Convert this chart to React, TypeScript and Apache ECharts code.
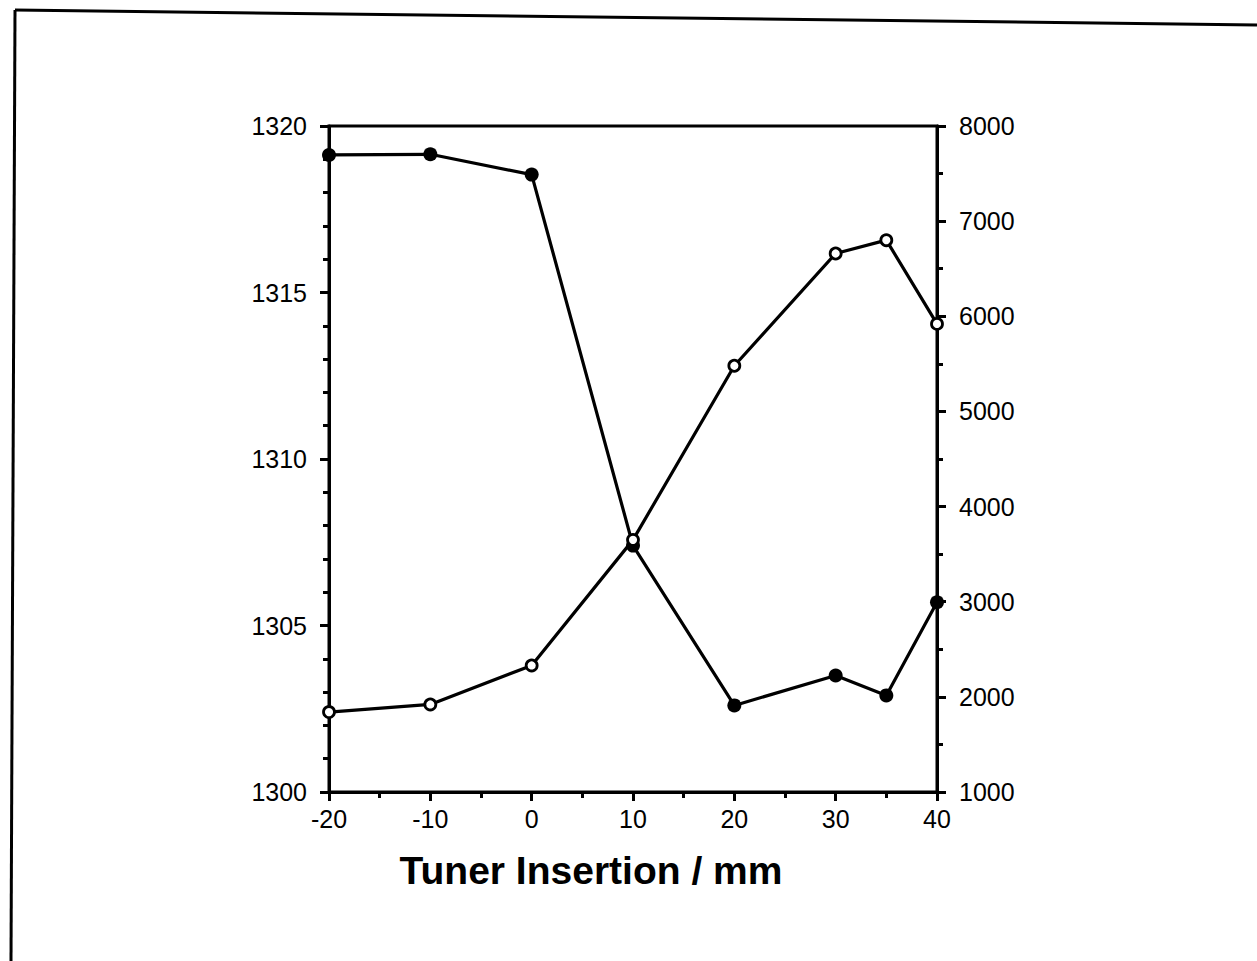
import React, { useEffect, useRef } from "react";
import * as echarts from "echarts";

const insertion = [-20, -10, 0, 10, 20, 30, 35, 40];
const frequencyValues = [1319.13, 1319.15, 1318.54, 1307.4, 1302.6, 1303.5, 1302.9, 1305.7];
const qValues = [1840, 1920, 2330, 3650, 5480, 6660, 6800, 5920];
const titleText = "Tuner Insertion / mm";

export default function App() {
  const ref = useRef<HTMLDivElement>(null);
  useEffect(() => {
    if (!ref.current) return;
    const chart = echarts.init(ref.current, null, { renderer: "svg" });
    const font = "Liberation Sans, Arial, Helvetica, sans-serif";
    const plain = (v: number) => String(v);
    const axisCommon = {
      axisLine: { show: true, onZero: false, lineStyle: { color: "#000", width: 3 } },
      axisTick: { show: true, inside: false, length: 9, lineStyle: { color: "#000", width: 3 } },
      splitLine: { show: false },
      minorSplitLine: { show: false },
    };
    chart.setOption({
      animation: false,
      backgroundColor: "#fff",
      grid: {
        left: 329,
        right: 320,
        top: 126,
        bottom: 169,
        show: true,
        borderColor: "#000",
        borderWidth: 3,
        backgroundColor: "transparent",
      },
      xAxis: {
        type: "value",
        min: -20,
        max: 40,
        interval: 10,
        ...axisCommon,
        minorTick: { show: true, splitNumber: 2, length: 6, lineStyle: { color: "#000", width: 3 } },
        axisLabel: { color: "#000", fontSize: 25, fontFamily: font, margin: 14, formatter: plain },
      },
      yAxis: [
        {
          type: "value",
          position: "left",
          min: 1300,
          max: 1320,
          interval: 5,
          ...axisCommon,
          minorTick: { show: true, splitNumber: 5, length: 6, lineStyle: { color: "#000", width: 3 } },
          axisLabel: { color: "#000", fontSize: 25, fontFamily: font, margin: 22, formatter: plain },
        },
        {
          type: "value",
          position: "right",
          min: 1000,
          max: 8000,
          interval: 1000,
          ...axisCommon,
          minorTick: { show: true, splitNumber: 2, length: 6, lineStyle: { color: "#000", width: 3 } },
          axisLabel: { color: "#000", fontSize: 25, fontFamily: font, margin: 22, formatter: plain },
        },
      ],
      series: [
        {
          type: "line",
          yAxisIndex: 0,
          data: insertion.map((x, i) => [x, frequencyValues[i]]),
          symbol: "circle",
          symbolSize: 14,
          clip: false,
          itemStyle: { color: "#000" },
          lineStyle: { color: "#000", width: 3.2 },
          z: 3,
        },
        {
          type: "line",
          yAxisIndex: 1,
          data: insertion.map((x, i) => [x, qValues[i]]),
          symbol: "circle",
          symbolSize: 11,
          clip: false,
          itemStyle: { color: "#fff", borderColor: "#000", borderWidth: 2.8 },
          lineStyle: { color: "#000", width: 3.2 },
          z: 4,
        },
      ],
      graphic: [
        {
          type: "line",
          shape: { x1: 15, y1: 10, x2: 1257, y2: 25 },
          style: { stroke: "#000", lineWidth: 3 },
        },
        {
          type: "line",
          shape: { x1: 15, y1: 10, x2: 11, y2: 961 },
          style: { stroke: "#000", lineWidth: 3 },
        },
        {
          type: "text",
          x: 591,
          y: 870,
          style: {
            text: titleText,
            fill: "#000",
            font: `bold 39px ${font}`,
            textAlign: "center",
            textVerticalAlign: "middle",
          },
        },
      ],
    });
    return () => chart.dispose();
  }, []);
  return (
    <div
      ref={ref}
      style={{ position: "fixed", left: 0, top: 0, width: 1257, height: 961, background: "#fff" }}
    />
  );
}
